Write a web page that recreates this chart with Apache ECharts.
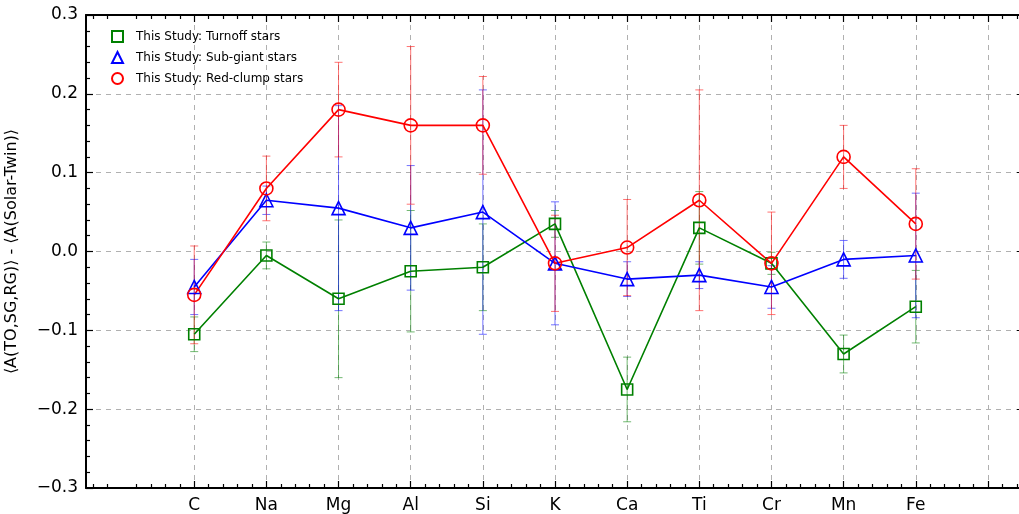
<!DOCTYPE html>
<html lang="en">
  <head>
    <meta charset="UTF-8" />
    <title>Abundance differences</title>
    <script src="https://cdn.jsdelivr.net/npm/echarts@6/dist/echarts.min.js"></script>
    <style>
      body {
        margin: 0;
        background: #fff;
      }
      #main {
        width: 1019px;
        height: 514px;
      }
    </style>
  </head>
  <body>
    <div id="main"></div>
    <script>
      // element names along x (index 0..10)
      let elements = ["C", "Na", "Mg", "Al", "Si", "K", "Ca", "Ti", "Cr", "Mn", "Fe"];

      // turnoff stars
      let toVal = [-0.105, -0.005, -0.06, -0.025, -0.02, 0.035, -0.175, 0.03, -0.015, -0.13, -0.07];
      let toErr = [0.022, 0.017, 0.1, 0.077, 0.055, 0.017, 0.041, 0.046, 0.014, 0.024, 0.046];
      // sub-giant stars
      let sgVal = [-0.045, 0.065, 0.055, 0.03, 0.05, -0.015, -0.035, -0.03, -0.045, -0.01, -0.005];
      let sgErr = [0.035, 0.018, 0.13, 0.079, 0.155, 0.078, 0.022, 0.017, 0.027, 0.024, 0.079];
      // red-clump stars
      let rcVal = [-0.055, 0.08, 0.18, 0.16, 0.16, -0.015, 0.005, 0.065, -0.015, 0.12, 0.035];
      let rcErr = [0.062, 0.041, 0.06, 0.1, 0.062, 0.061, 0.061, 0.14, 0.065, 0.04, 0.07];

      let yTicks = [-0.3, -0.2, -0.1, 0.0, 0.1, 0.2, 0.3];

      let majorX = [0, 1, 2, 3, 4, 5, 6, 7, 8, 9, 10, 11];
      let minorX = [];
      for (let i = -7; i <= 57; i++) {
        if (i % 5 != 0) minorX.push(Math.round(i * 20) / 100);
      }

      function pts(vals) {
        return vals.map((v, i) => [i, v]);
      }
      function bars(vals, errs) {
        return vals.map((v, i) => [i, v - errs[i], v + errs[i]]);
      }

      function errRender(color) {
        return function (params, api) {
          let x = api.value(0);
          let lo = api.coord([x, api.value(1)]);
          let hi = api.coord([x, api.value(2)]);
          let w = 4;
          let style = { stroke: color, lineWidth: 1, opacity: 0.55 };
          return {
            type: "group",
            children: [
              { type: "line", shape: { x1: lo[0], y1: lo[1], x2: hi[0], y2: hi[1] }, style: style },
              { type: "line", shape: { x1: lo[0] - w, y1: lo[1], x2: lo[0] + w, y2: lo[1] }, style: style },
              { type: "line", shape: { x1: hi[0] - w, y1: hi[1], x2: hi[0] + w, y2: hi[1] }, style: style },
            ],
          };
        };
      }

      function lineSeries(name, vals, color, symbol, size) {
        return {
          name: name,
          type: "line",
          data: pts(vals),
          symbol: symbol,
          symbolSize: size,
          showAllSymbol: true,
          lineStyle: { color: color, width: 1.6 },
          itemStyle: { color: "rgba(255,255,255,0)", borderColor: color, borderWidth: 1.6 },
          emphasis: { disabled: true },
        };
      }

      function errSeries(name, vals, errs, color) {
        return {
          name: name + " err",
          type: "custom",
          data: bars(vals, errs),
          renderItem: errRender(color),
          encode: { x: 0, y: [1, 2] },
          silent: true,
        };
      }

      let tickStyle = { color: "#000", width: 1.2 };
      let axisFont = { fontFamily: "DejaVu Sans", fontSize: 17, color: "#000" };
      let spine = { onZero: false, lineStyle: { color: "#000", width: 2 } };
      let xMax = 11.5;

      let myChart = echarts.init(document.getElementById("main"), null, { renderer: "canvas" });
      let option = {
        animation: false,
        grid: { left: 86, top: 15, right: -5, bottom: 26, outerBoundsMode: "none", containLabel: false },
        legend: {
          left: 106,
          top: 25,
          orient: "vertical",
          itemGap: 8,
          itemWidth: 11,
          itemHeight: 11,
          textStyle: { fontFamily: "DejaVu Sans", fontSize: 12, color: "#000", padding: [0, 0, 0, 8] },
          data: [
            { name: "This Study: Turnoff stars", icon: "rect" },
            { name: "This Study: Sub-giant stars", icon: "triangle" },
            { name: "This Study: Red-clump stars", icon: "circle" },
          ],
        },
        xAxis: [
          {
            type: "value",
            min: -1.5,
            max: xMax,
            position: "bottom",
            axisLine: spine,
            axisTick: { inside: true, length: 7, lineStyle: tickStyle, customValues: majorX },
            axisLabel: {
              customValues: majorX.slice(0, elements.length),
              formatter: (v) => elements[Math.round(v)] || "",
              margin: 9,
              ...axisFont,
            },
            splitLine: { show: true, lineStyle: { color: "#b0b0b0", type: [5, 5], width: 1 } },
          },
          {
            type: "value",
            min: -1.5,
            max: xMax,
            position: "bottom",
            axisLine: { show: false, onZero: false },
            axisTick: { inside: true, length: 4, lineStyle: tickStyle, customValues: minorX },
            axisLabel: { show: false },
            splitLine: { show: false },
          },
          {
            type: "value",
            min: -1.5,
            max: xMax,
            position: "top",
            axisLine: spine,
            axisTick: { inside: true, length: 7, lineStyle: tickStyle, customValues: majorX },
            axisLabel: { show: false },
            splitLine: { show: false },
          },
          {
            type: "value",
            min: -1.5,
            max: xMax,
            position: "top",
            axisLine: { show: false, onZero: false },
            axisTick: { inside: true, length: 4, lineStyle: tickStyle, customValues: minorX },
            axisLabel: { show: false },
            splitLine: { show: false },
          },
        ],
        yAxis: [
          {
            type: "value",
            min: yTicks[0],
            max: yTicks[yTicks.length - 1],
            interval: 0.1,
            position: "left",
            name: "⟨A(TO,SG,RG)⟩ - ⟨A(Solar-Twin)⟩",
            nameLocation: "middle",
            nameGap: 66,
            nameTextStyle: { fontFamily: "DejaVu Sans", fontSize: 16, color: "#000" },
            axisLine: { show: true, ...spine },
            axisTick: { inside: true, length: 7, lineStyle: tickStyle },
            minorTick: { show: true, splitNumber: 5, length: 4, lineStyle: tickStyle },
            axisLabel: {
              margin: 8,
              formatter: (v) => (v < 0 ? "\u2212" + Math.abs(v).toFixed(1) : v.toFixed(1)),
              ...axisFont,
            },
            splitLine: { show: true, lineStyle: { color: "#b0b0b0", type: [5, 5], width: 1 } },
          },
          {
            type: "value",
            min: yTicks[0],
            max: yTicks[yTicks.length - 1],
            interval: 0.1,
            position: "right",
            axisLine: { show: false, onZero: false },
            axisTick: { inside: true, length: 7, lineStyle: tickStyle },
            minorTick: { show: false },
            axisLabel: { show: false },
            splitLine: { show: false },
          },
        ],
        series: [
          errSeries("This Study: Turnoff stars", toVal, toErr, "green"),
          lineSeries("This Study: Turnoff stars", toVal, "green", "rect", 11),
          errSeries("This Study: Sub-giant stars", sgVal, sgErr, "#0000ff"),
          lineSeries("This Study: Sub-giant stars", sgVal, "#0000ff", "triangle", 13),
          errSeries("This Study: Red-clump stars", rcVal, rcErr, "#ff0000"),
          lineSeries("This Study: Red-clump stars", rcVal, "#ff0000", "circle", 13),
        ],
      };
      myChart.setOption(option);
    </script>
  </body>
</html>
